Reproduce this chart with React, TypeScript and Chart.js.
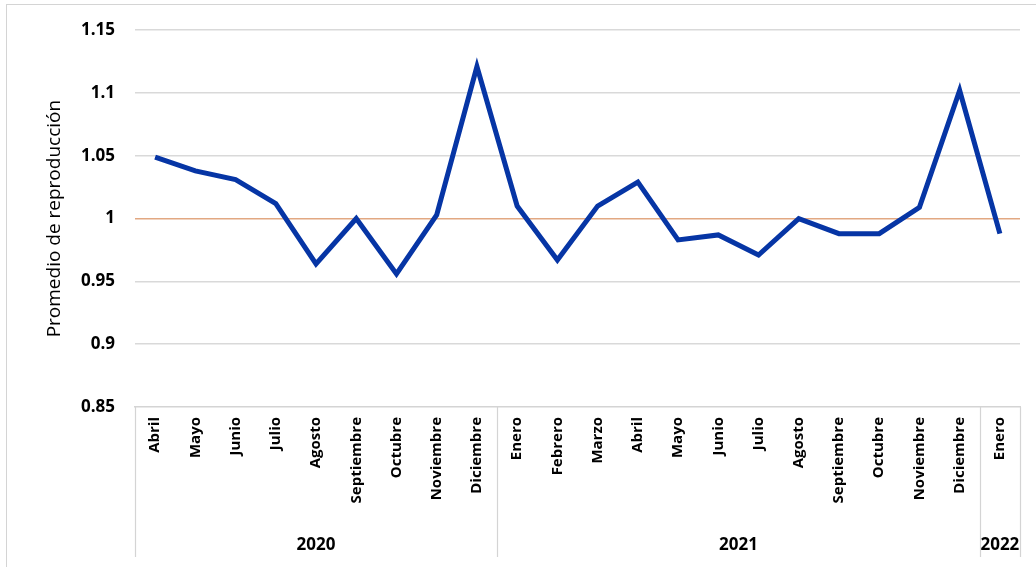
import React, { useEffect, useRef } from "react";
import { Chart, registerables } from "chart.js";

Chart.register(...registerables);

const months: string[] = [
  "Abril", "Mayo", "Junio", "Julio", "Agosto", "Septiembre", "Octubre", "Noviembre", "Diciembre",
  "Enero", "Febrero", "Marzo", "Abril", "Mayo", "Junio", "Julio", "Agosto", "Septiembre", "Octubre", "Noviembre", "Diciembre",
  "Enero",
];
const years: string[] = ["2020", "2021", "2022"];
const yearCounts: number[] = [9, 12, 1];
const reproduction: number[] = [
  1.049, 1.038, 1.031, 1.012, 0.964, 1.0, 0.956, 1.003, 1.121,
  1.010, 0.967, 1.010, 1.029, 0.983, 0.987, 0.971, 1.0, 0.988, 0.988, 1.009, 1.102,
  0.988,
];
const yMin = 0.85;
const yMax = 1.15;
const yStep = 0.05;
const referenceValue = 1;
const yTitle = "Promedio de reproducción";

const FONT = "'Open Sans', 'DejaVu Sans', sans-serif";

const groupPlugin = {
  id: "yearGroups",
  beforeDraw(chart: any) {
    const ctx = chart.ctx;
    ctx.save();
    ctx.fillStyle = "#ffffff";
    ctx.fillRect(0, 0, chart.width, chart.height);
    ctx.strokeStyle = "#d4d4d4";
    ctx.lineWidth = 1;
    ctx.strokeRect(6.5, 4.5, chart.width + 20, chart.height + 20);
    ctx.restore();
  },
  afterDraw(chart: any) {
    const ctx = chart.ctx;
    const xs = chart.scales.x;
    const area = chart.chartArea;
    const bottom = chart.height - 10;
    const boundary = (i: number) => {
      if (i <= 0) return xs.left;
      if (i >= months.length) return xs.right;
      return (xs.getPixelForValue(i - 1) + xs.getPixelForValue(i)) / 2;
    };
    ctx.save();
    ctx.strokeStyle = "#d4d4d4";
    ctx.lineWidth = 1.2;
    let start = 0;
    const bounds: number[] = [0];
    yearCounts.forEach((c) => {
      start += c;
      bounds.push(start);
    });
    bounds.forEach((b) => {
      const x = Math.round(boundary(b)) + 0.5;
      ctx.beginPath();
      ctx.moveTo(x, area.bottom);
      ctx.lineTo(x, bottom);
      ctx.stroke();
    });
    ctx.fillStyle = "#000";
    ctx.font = `bold 17px ${FONT}`;
    ctx.textAlign = "center";
    ctx.textBaseline = "middle";
    years.forEach((y, i) => {
      const x0 = boundary(bounds[i]);
      const x1 = boundary(bounds[i + 1]);
      ctx.fillText(y, (x0 + x1) / 2, chart.height - 22);
    });
    ctx.restore();
  },
};

export default function App() {
  const ref = useRef<HTMLCanvasElement | null>(null);
  useEffect(() => {
    if (!ref.current) return;
    const chart = new Chart(ref.current, {
      type: "line",
      data: {
        labels: months,
        datasets: [
          {
            data: reproduction,
            borderColor: "#0635a5",
            borderWidth: 5,
            pointRadius: 0,
            tension: 0,
            fill: false,
            borderJoinStyle: "miter" as any,
          },
        ],
      },
      options: {
        animation: false,
        responsive: true,
        maintainAspectRatio: false,
        layout: { padding: { left: 0, right: 16, top: 29, bottom: 0 } },
        plugins: { legend: { display: false }, tooltip: { enabled: false } },
        scales: {
          x: {
            offset: true,
            grid: { display: false },
            border: { display: true, color: "#d4d4d4", width: 1.5 },
            ticks: {
              minRotation: 90,
              maxRotation: 90,
              autoSkip: false,
              padding: 2,
              color: "#000",
              font: { family: FONT, size: 15, weight: "bold" },
            },
            afterFit(scale: any) {
              scale.height = 160;
            },
          },
          y: {
            min: yMin,
            max: yMax,
            border: { display: false },
            grid: {
              drawTicks: false,
              lineWidth: 1.5,
              color: (c: any) =>
                c.tick && Math.abs(c.tick.value - referenceValue) < 1e-9
                  ? "#e2a882"
                  : c.tick && Math.abs(c.tick.value - yMin) < 1e-9
                  ? "rgba(0,0,0,0)"
                  : "#d9d9d9",
            },
            ticks: {
              stepSize: yStep,
              padding: 20,
              color: "#000",
              font: { family: FONT, size: 17, weight: "bold" },
              callback: (v: any) => String(Math.round(Number(v) * 100) / 100),
            },
            title: {
              display: true,
              text: yTitle,
              color: "#000",
              font: { family: FONT, size: 19 },
              padding: { top: 43, bottom: 0 },
            },
            afterFit(scale: any) {
              scale.width = 135;
            },
          },
        },
      },
      plugins: [groupPlugin],
    });
    return () => chart.destroy();
  }, []);
  return (
    <div style={{ position: "fixed", left: 0, top: 0, width: 1036, height: 567, background: "#fff" }}>
      <canvas ref={ref} />
    </div>
  );
}
